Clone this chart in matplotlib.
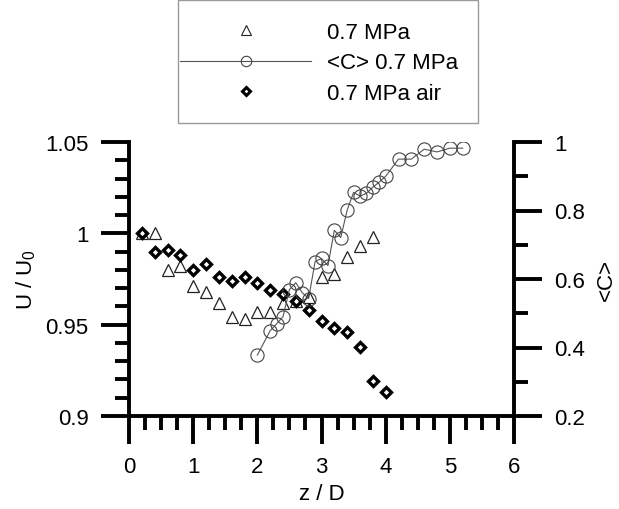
import matplotlib
matplotlib.use("Agg")
import matplotlib.pyplot as plt
from matplotlib.lines import Line2D
from matplotlib.patches import Rectangle
from matplotlib.ticker import MultipleLocator

plt.rcParams['font.family'] = ['Liberation Sans', 'DejaVu Sans']
plt.rcParams['mathtext.fontset'] = 'custom'
plt.rcParams['mathtext.rm'] = 'Liberation Sans'
plt.rcParams['mathtext.default'] = 'regular'

# 0.7 MPa (triangles, left axis)
z_tri = [0.2, 0.4, 0.6, 0.8, 1.0, 1.2, 1.4, 1.6, 1.8, 2.0,
         2.2, 2.4, 2.6, 2.8, 3.0, 3.2, 3.4, 3.6, 3.8]
u_tri = [1.000, 1.000, 0.980, 0.982, 0.971, 0.968, 0.962, 0.954, 0.953, 0.957,
         0.957, 0.962, 0.963, 0.965, 0.976, 0.978, 0.987, 0.993, 0.998]

# 0.7 MPa air (diamonds, left axis)
z_air = [0.2, 0.4, 0.6, 0.8, 1.0, 1.2, 1.4, 1.6, 1.8, 2.0,
         2.2, 2.4, 2.6, 2.8, 3.0, 3.2, 3.4, 3.6, 3.8, 4.0]
u_air = [1.000, 0.990, 0.991, 0.988, 0.980, 0.983, 0.976, 0.974, 0.976, 0.973,
         0.969, 0.967, 0.963, 0.958, 0.952, 0.948, 0.946, 0.938, 0.919, 0.913]

# <C> 0.7 MPa (circles, right axis)
z_c = [2.0, 2.2, 2.3, 2.4, 2.5, 2.6, 2.7, 2.8, 2.9, 3.0, 3.1, 3.2, 3.3,
       3.4, 3.5, 3.6, 3.7, 3.8, 3.9, 4.0, 4.2, 4.4, 4.6, 4.8, 5.0, 5.2]
c_vals = [0.378, 0.449, 0.469, 0.490, 0.569, 0.589, 0.560, 0.543, 0.651, 0.660, 0.639, 0.742, 0.721,
          0.801, 0.853, 0.842, 0.850, 0.868, 0.883, 0.900, 0.950, 0.950, 0.979, 0.971, 0.982, 0.982]

labels = ['0.7 MPa', '<C> 0.7 MPa', '0.7 MPa air']

W, H = 619, 510
fig = plt.figure(figsize=(W / 100, H / 100), dpi=100)
ax = fig.add_axes([129 / W, 1 - 417 / H, 385 / W, 274 / H])
ax2 = ax.twinx()

ax.plot(z_tri, u_tri, linestyle='none', marker='^', ms=9, mfc='none', mec='#222222', mew=0.9)
ax.plot(z_air, u_air, linestyle='none', marker='D', ms=5.5, mfc='none', mec='black', mew=2.4)
ax2.plot(z_c, c_vals, color='#555555', lw=0.8, marker='o', ms=9.5, mfc='none', mec='#444444', mew=0.8)

ax.set_xlim(0, 6)
ax.set_ylim(0.9, 1.05)
ax2.set_ylim(0.2, 1.0)
ax.xaxis.set_major_locator(MultipleLocator(1))
ax.xaxis.set_minor_locator(MultipleLocator(0.25))
ax.yaxis.set_major_locator(MultipleLocator(0.05))
ax.yaxis.set_minor_locator(MultipleLocator(0.01))
ax2.yaxis.set_major_locator(MultipleLocator(0.2))
ax2.yaxis.set_minor_locator(MultipleLocator(0.1))
ax.set_yticks([0.9, 0.95, 1.0, 1.05])
ax.set_yticklabels(['0.9', '0.95', '1', '1.05'])
ax2.set_yticks([0.2, 0.4, 0.6, 0.8, 1.0])
ax2.set_yticklabels(['0.2', '0.4', '0.6', '0.8', '1'])

for a in (ax, ax2):
    for s in a.spines.values():
        s.set_linewidth(2.8)
    a.spines['top'].set_visible(False)
    a.tick_params(which='major', direction='out', length=20, width=2.8, labelsize=16, pad=9)
    a.tick_params(which='minor', direction='out', length=10, width=2.8)
ax.spines['right'].set_visible(False)
ax2.spines['left'].set_visible(False)
ax2.spines['bottom'].set_visible(False)

ax.set_xlabel('z / D', fontsize=16, labelpad=4)
ax.set_ylabel('U / U$_0$', fontsize=16)
ax.yaxis.set_label_coords(-0.237, 0.5)
ax2.set_ylabel('<C>', fontsize=16)
ax2.yaxis.set_label_coords(1.212, 0.5)

# legend box above the plot
fig.patches.append(Rectangle((178 / W, 1 - 124 / H), 300 / W, 123 / H, transform=fig.transFigure,
                             fill=False, edgecolor='#999999', lw=1))
handles = [
    Line2D([], [], linestyle='none', marker='^', ms=6.5, mfc='none', mec='#222222', mew=0.8),
    Line2D([], [], color='#555555', lw=0.8, marker='o', ms=7.5, mfc='none', mec='#444444', mew=0.8),
    Line2D([], [], linestyle='none', marker='D', ms=4.2, mfc='none', mec='black', mew=2.2),
]
fig.legend(handles, labels, loc='upper left', bbox_to_anchor=(180 / W, 1 - 23 / H),
           bbox_transform=fig.transFigure, frameon=False, fontsize=16, borderpad=0,
           borderaxespad=0, handlelength=5.9, handletextpad=0.7, labelspacing=0.42)

fig.savefig('out.png', dpi=100)
